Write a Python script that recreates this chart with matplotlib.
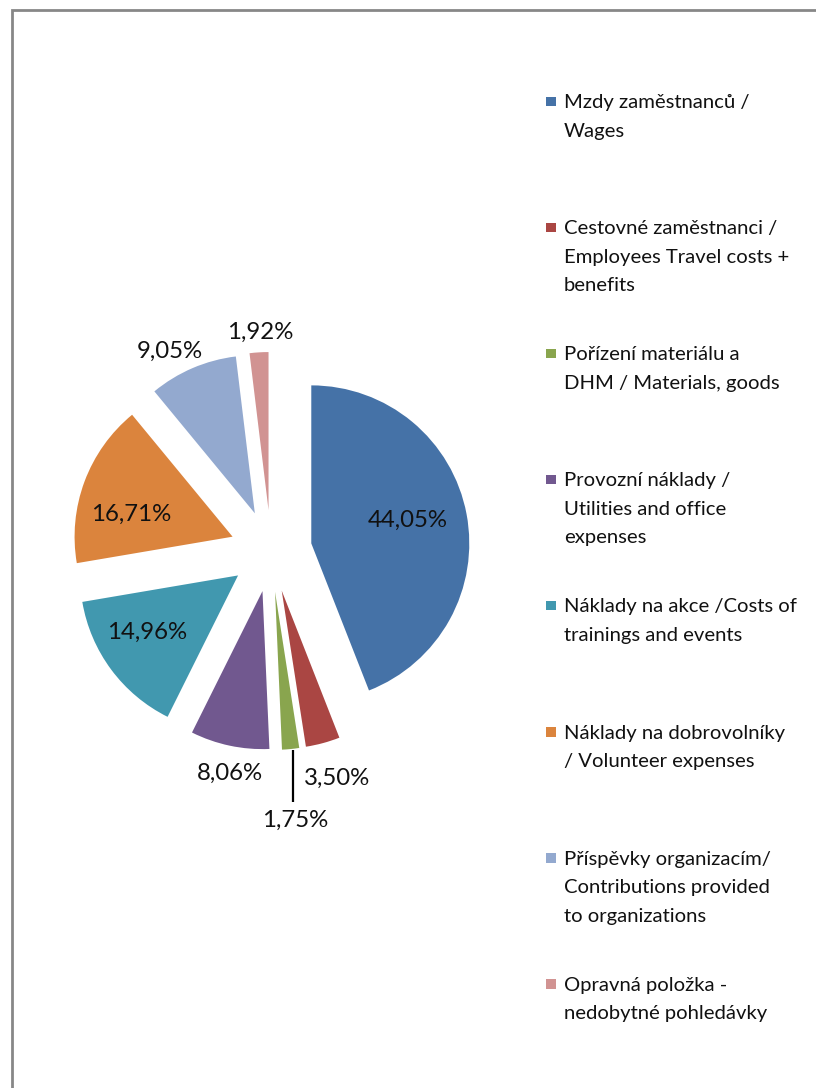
import matplotlib
matplotlib.use("Agg")
import matplotlib.pyplot as plt
import numpy as np
from matplotlib.patches import Rectangle

# ---- data ----
categories = [
    "Mzdy zaměstnanců /\nWages",
    "Cestovné zaměstnanci /\nEmployees Travel costs +\nbenefits",
    "Pořízení materiálu a\nDHM / Materials, goods",
    "Provozní náklady /\nUtilities and office\nexpenses",
    "Náklady na akce /Costs of\ntrainings and events",
    "Náklady na dobrovolníky\n/ Volunteer expenses",
    "Příspěvky organizacím/\nContributions provided\nto organizations",
    "Opravná položka -\nnedobytné pohledávky",
]
values = [44.05, 3.50, 1.75, 8.06, 14.96, 16.71, 9.05, 1.92]
colors = ["#4572A7", "#AA4643", "#89A54E", "#71588F",
          "#4198AF", "#DB843D", "#93A9CF", "#D19392"]

# ---- layout / style (pixel units, y up) ----
W, H = 816, 1088
CX, CY = 271, H - 551
R = 158
EXPL = 41
# label placement: (distance factor of R from wedge apex, angle offset deg)
label_place = [(0.627, 2.7), (1.236, 1.3), (1.449, -0.7), (1.17, 1.9),
               (0.68, -4.5), (0.654, 8.1), (1.158, 4.5), (1.128, -0.7)]
FONT = ["Lato", "DejaVu Sans"]

fig = plt.figure(figsize=(W / 100, H / 100), dpi=100)
ax = fig.add_axes([0, 0, 1, 1])

wedges, _ = ax.pie(values, colors=colors, startangle=90, counterclock=False,
                   center=(CX, CY), radius=R, explode=[EXPL] * len(values),
                   wedgeprops=dict(linewidth=0))
ax.set_xlim(0, W)
ax.set_ylim(0, H)
ax.set_aspect("auto")
ax.axis("off")

for i, (w, v) in enumerate(zip(wedges, values)):
    f, off = label_place[i]
    mid = np.deg2rad((w.theta1 + w.theta2) / 2 + off)
    cx, cy = w.center
    lx = cx + f * R * np.cos(mid)
    ly = cy + f * R * np.sin(mid)
    txt = f"{v:.2f}".replace(".", ",") + "%"
    ax.text(lx, ly, txt, ha="center", va="center", fontsize=17.3,
            family=FONT, color="#111111")
    if i == 2:
        # leader line for the thin green slice
        m0 = np.deg2rad((w.theta1 + w.theta2) / 2)
        x0 = cx + R * np.cos(m0) + 2
        y0 = cy + R * np.sin(m0) - 1
        ax.plot([x0, x0], [y0, ly + 18], color="black", lw=1.6,
                solid_capstyle="butt")

# ---- legend (manual, Excel-like even spacing) ----
LX_MARK = 546
LX_TEXT = 564
BASE0 = 108
STEP = 126.1
LINE = 28.5
MS = 9.5
for i, (lab, col) in enumerate(zip(categories, colors)):
    b = BASE0 + i * STEP
    ax.add_patch(Rectangle((LX_MARK, H - (b - 2)), MS, MS, facecolor=col,
                           edgecolor="none"))
    for j, line in enumerate(lab.split("\n")):
        ax.text(LX_TEXT, H - (b + j * LINE), line, ha="left", va="baseline",
                fontsize=14.6, family=FONT, color="#111111")

# ---- chart border ----
ax.add_patch(Rectangle((12, -20), W + 20, H - 10 + 20, facecolor="none",
                       edgecolor="#878787", linewidth=2.0))

fig.savefig("out.png", dpi=100)
